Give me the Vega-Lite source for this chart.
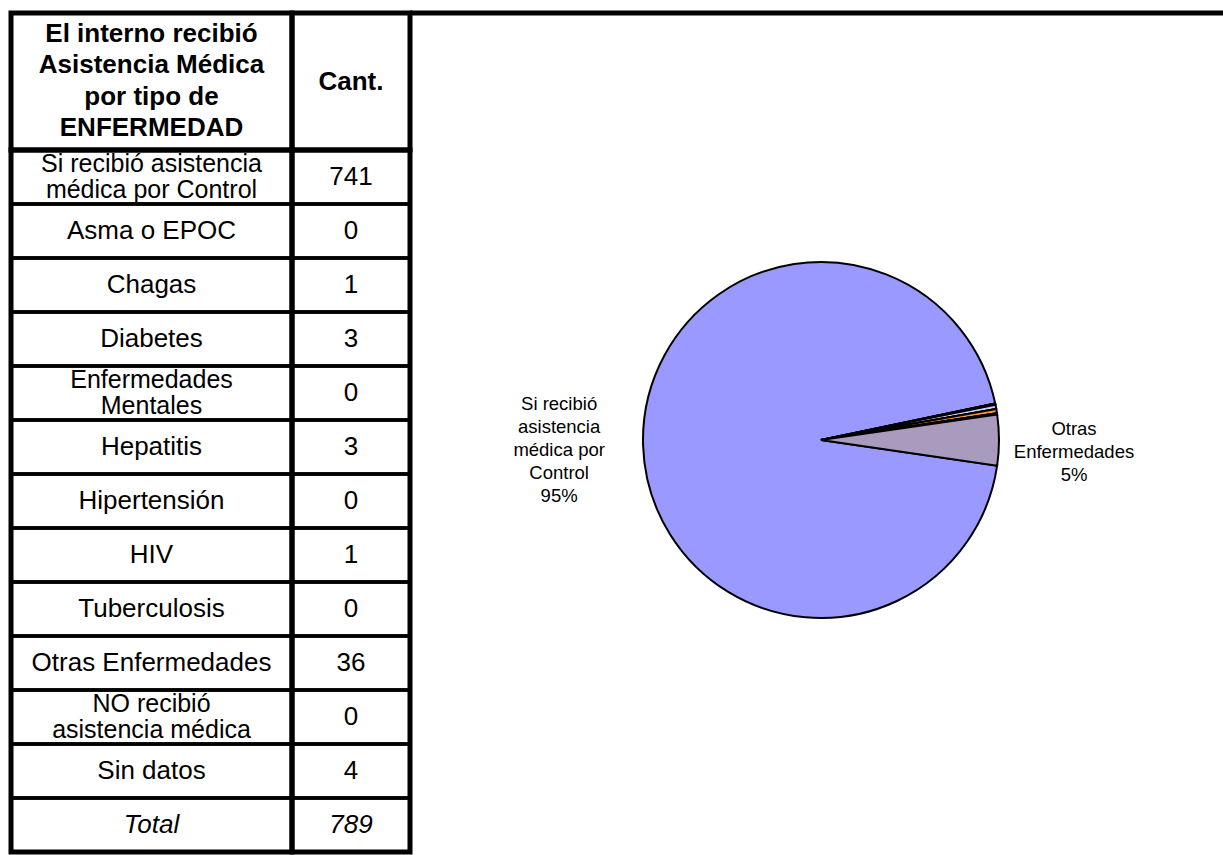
{
  "$schema": "https://vega.github.io/schema/vega-lite/v6.json",
  "padding": {"left": 6, "top": 10, "right": 0, "bottom": 0},
  "background": "white",
  "columns": 3,
  "spacing": 0,
  "bounds": "flush",
  "config": {"view": {"stroke": null}, "concat": {"spacing": 0}, "font": "Liberation Sans"},
  "datasets": {
    "rows": [
      {"r": 1, "label": "Si recibió asistencia|médica por Control", "n": 741, "pie": "Si recibió|asistencia|médica por|Control|95%"},
      {"r": 2, "label": "Asma o EPOC", "n": 0, "pie": ""},
      {"r": 3, "label": "Chagas", "n": 1, "pie": ""},
      {"r": 4, "label": "Diabetes", "n": 3, "pie": ""},
      {"r": 5, "label": "Enfermedades|Mentales", "n": 0, "pie": ""},
      {"r": 6, "label": "Hepatitis", "n": 3, "pie": ""},
      {"r": 7, "label": "Hipertensión", "n": 0, "pie": ""},
      {"r": 8, "label": "HIV", "n": 1, "pie": ""},
      {"r": 9, "label": "Tuberculosis", "n": 0, "pie": ""},
      {"r": 10, "label": "Otras Enfermedades", "n": 36, "pie": "Otras|Enfermedades|5%"},
      {"r": 11, "label": "NO recibió|asistencia médica", "n": 0, "pie": ""},
      {"r": 12, "label": "Sin datos", "n": 4, "pie": ""},
      {"r": 13, "label": "Total", "n": 789, "pie": ""}
    ]
  },
  "concat": [
    {
      "width": 281, "height": 137,
      "view": {"stroke": "black", "strokeWidth": 5},
      "data": {"values": [{"h": "El interno recibió|Asistencia Médica|por tipo de|ENFERMEDAD"}]},
      "mark": {"type": "text", "lineBreak": "|", "fontWeight": "bold", "fontSize": 26, "lineHeight": 31.5, "baseline": "middle", "dy": -48, "color": "black"},
      "encoding": {"text": {"field": "h"}}
    },
    {
      "width": 118, "height": 137,
      "view": {"stroke": "black", "strokeWidth": 5},
      "data": {"values": [{"h": "Cant."}]},
      "mark": {"type": "text", "fontWeight": "bold", "fontSize": 26, "baseline": "middle", "color": "black"},
      "encoding": {"text": {"field": "h"}}
    },
    {
      "width": 815, "height": 137,
      "data": {"values": [{"t": 1}]},
      "mark": {"type": "rule", "stroke": "black", "strokeWidth": 5},
      "encoding": {"y": {"datum": 1, "type": "quantitative", "scale": {"domain": [0, 1]}, "axis": null}}
    },
    {
      "width": 281, "height": 702,
      "view": {"stroke": "black", "strokeWidth": 5},
      "data": {"name": "rows"},
      "encoding": {"y": {"field": "r", "type": "ordinal", "axis": null, "scale": {"paddingInner": 0, "paddingOuter": 0}}},
      "layer": [
        {"mark": {"type": "rect", "filled": false, "stroke": "black", "strokeWidth": 3.5}},
        {"transform": [{"filter": "datum.r < 13 && indexof(datum.label, '|') < 0"}], "mark": {"type": "text", "fontSize": 26, "baseline": "middle", "color": "black"}, "encoding": {"text": {"field": "label"}}},
        {"transform": [{"filter": "indexof(datum.label, '|') >= 0"}], "mark": {"type": "text", "lineBreak": "|", "fontSize": 25, "lineHeight": 26, "baseline": "middle", "dy": -13, "color": "black"}, "encoding": {"text": {"field": "label"}}},
        {"transform": [{"filter": "datum.r == 13"}], "mark": {"type": "text", "fontStyle": "italic", "fontSize": 26, "baseline": "middle", "color": "black"}, "encoding": {"text": {"field": "label"}}}
      ]
    },
    {
      "width": 118, "height": 702,
      "view": {"stroke": "black", "strokeWidth": 5},
      "data": {"name": "rows"},
      "encoding": {"y": {"field": "r", "type": "ordinal", "axis": null, "scale": {"paddingInner": 0, "paddingOuter": 0}}},
      "layer": [
        {"mark": {"type": "rect", "filled": false, "stroke": "black", "strokeWidth": 3.5}},
        {"transform": [{"filter": "datum.r < 13"}], "mark": {"type": "text", "fontSize": 26, "baseline": "middle", "color": "black"}, "encoding": {"text": {"field": "n", "type": "quantitative"}}},
        {"transform": [{"filter": "datum.r == 13"}], "mark": {"type": "text", "fontStyle": "italic", "fontSize": 26, "baseline": "middle", "color": "black"}, "encoding": {"text": {"field": "n", "type": "quantitative"}}}
      ]
    },
    {
      "width": 815, "height": 702,
      "data": {"name": "rows"},
      "transform": [{"filter": "datum.r <= 10"}],
      "encoding": {
        "theta": {"field": "n", "type": "quantitative", "stack": true, "scale": {"range": [1.7157, 7.9989]}},
        "order": {"field": "r", "type": "quantitative"}
      },
      "layer": [
        {
          "mark": {"type": "arc", "outerRadius": 178, "stroke": "black", "strokeWidth": 2, "xOffset": 3.5, "yOffset": -61},
          "encoding": {
            "color": {
              "field": "label", "type": "nominal", "legend": null,
              "scale": {
                "domain": ["Si recibió asistencia|médica por Control", "Asma o EPOC", "Chagas", "Diabetes", "Enfermedades|Mentales", "Hepatitis", "Hipertensión", "HIV", "Tuberculosis", "Otras Enfermedades"],
                "range": ["#9999ff", "#993366", "#7a4d8c", "#ccccff", "#660066", "#ff9933", "#0066cc", "#5a3d7a", "#000080", "#a99bbd"]
              }
            }
          }
        },
        {
          "mark": {"type": "text", "radius": 262, "lineBreak": "|", "fontSize": 18.5, "lineHeight": 23, "baseline": "middle", "align": "center", "xOffset": 3.5, "yOffset": -61, "dy": -44, "color": "black"},
          "encoding": {"text": {"condition": {"test": "datum.r == 1", "field": "pie"}, "value": ""}}
        },
        {
          "mark": {"type": "text", "radius": 253, "lineBreak": "|", "fontSize": 18.5, "lineHeight": 23, "baseline": "middle", "align": "center", "xOffset": 3.5, "yOffset": -61, "dy": -11.5, "color": "black"},
          "encoding": {"text": {"condition": {"test": "datum.r == 10", "field": "pie"}, "value": ""}}
        }
      ]
    }
  ]
}
